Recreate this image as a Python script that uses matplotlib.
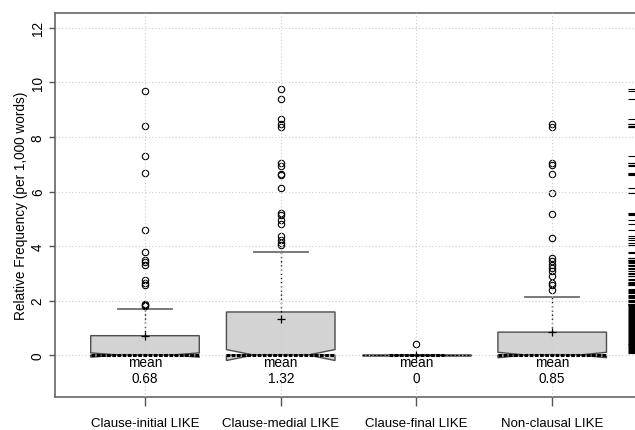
import matplotlib
matplotlib.use("Agg")
import matplotlib.pyplot as plt

plt.rcParams['font.family'] = ['Liberation Sans', 'DejaVu Sans']

# Summary statistics per LIKE position (relative frequency per 1,000 words)
categories = ["Clause-initial LIKE", "Clause-medial LIKE",
              "Clause-final LIKE", "Non-clausal LIKE"]
means = [0.68, 1.32, 0, 0.85]
medians = [0.0, 0.0, 0.0, 0.0]
q1 = [0.0, 0.0, 0.0, 0.0]
q3 = [0.71, 1.58, 0.0, 0.84]
whisker_low = [0.0, 0.0, 0.0, 0.0]
whisker_high = [1.68, 3.77, 0.0, 2.13]
notch_half = [0.08, 0.20, 0.0, 0.10]
outliers = [
    [9.67, 8.40, 7.32, 6.68, 4.57, 3.77, 3.49, 3.41, 3.32, 2.74, 2.63, 2.57,
     1.89, 1.84, 1.79],
    [9.77, 9.39, 8.66, 8.48, 8.37, 7.04, 6.92, 6.64, 6.61, 6.14, 5.21, 5.12,
     4.96, 4.82, 4.38, 4.23, 4.11, 4.05],
    [0.40],
    [8.48, 8.36, 7.06, 6.96, 6.63, 5.94, 5.19, 4.30, 3.57, 3.44, 3.32, 3.20,
     3.08, 2.89, 2.65, 2.57, 2.37],
]
# Non-outlying observations shown in the rug on the right
inner_values = [3.75, 3.57, 3.50, 3.38, 3.26, 3.16, 3.02, 2.96, 2.89, 2.80,
                2.68, 2.59, 2.41, 2.36, 2.31, 2.27, 2.22, 2.18, 2.12, 2.08,
                2.03, 1.98, 1.93, 1.87, 1.82, 1.78, 1.74, 1.70, 1.66, 1.62,
                1.58, 1.55, 1.51, 1.47, 1.43, 1.40, 1.36, 1.32, 1.29, 1.25,
                1.21, 1.18, 1.14, 1.10, 1.07, 1.03, 0.99, 0.96, 0.92, 0.88,
                0.85, 0.81, 0.77, 0.74, 0.70, 0.66, 0.63, 0.59, 0.55, 0.52,
                0.48, 0.44, 0.41, 0.37, 0.33, 0.30, 0.26, 0.22, 0.19, 0.15,
                0.12, 0.08]

positions = [1, 2, 3, 4]
box_width = 0.8

fig = plt.figure(figsize=(6.35, 4.31), dpi=100)
ax = fig.add_axes([55 / 635, 33 / 431, 1 - 55 / 635, (398 - 14) / 431])

stats = []
for i, cat in enumerate(categories):
    stats.append(dict(med=medians[i], q1=q1[i], q3=q3[i],
                      whislo=whisker_low[i], whishi=whisker_high[i],
                      cilo=medians[i] - notch_half[i],
                      cihi=medians[i] + notch_half[i],
                      fliers=outliers[i], label=cat))

ax.bxp(stats, positions=positions, widths=box_width, shownotches=True,
       patch_artist=True, showfliers=True, capwidths=0.4,
       boxprops=dict(facecolor='#d3d3d3', edgecolor='#4d4d4d', linewidth=1.0),
       whiskerprops=dict(color='black', linestyle=(0, (1, 2)), linewidth=1.0),
       capprops=dict(color='#6e6e6e', linewidth=1.3),
       medianprops=dict(linestyle='none'),
       flierprops=dict(marker='o', markerfacecolor='none',
                       markeredgecolor='black', markersize=4.6,
                       markeredgewidth=0.8))

# Median bars; flat boxes get a thin dashed outline and a short median bar
for p, med, lo, hi in zip(positions, medians, q1, q3):
    half = box_width / 2 if hi > lo else box_width / 4
    if hi <= lo:
        ax.hlines(med, p - box_width / 2, p + box_width / 2, colors='black',
                  linewidth=0.8, linestyles=(0, (2, 1.5)), zorder=3)
    ax.hlines(med, p - half, p + half, colors='black', linewidth=2.2,
              linestyles=(0, (1.2, 0.5)), zorder=3)

# Means
ax.plot(positions, means, linestyle='none', marker='+', color='black',
        markersize=5.5, markeredgewidth=0.9, zorder=4)
for p, m in zip(positions, means):
    ax.text(p, -0.26, "mean", ha='center', va='center', fontsize=9.8)
    ax.text(p, -0.84, f"{m:g}", ha='center', va='center', fontsize=9.8)

# Rug of all observations along the right edge
rug_values = [v for grp in outliers for v in grp] + inner_values
ax.hlines(rug_values, 0.988, 1.0, transform=ax.get_yaxis_transform(),
          colors='black', linewidth=0.8, zorder=3)

ax.set_xlim(0.337, 4.61)
ax.set_ylim(-1.54, 12.55)
ax.set_xticks(positions)
ax.set_xticklabels(categories, fontsize=9.5)
ax.set_yticks([0, 2, 4, 6, 8, 10, 12])
ax.set_yticklabels(['0', '2', '4', '6', '8', '10', '12'], fontsize=9.8,
                   rotation=90, va='center')
ax.tick_params(axis='x', length=6.5, pad=8, color='#555555', width=1)
ax.tick_params(axis='y', length=4.3, pad=3, color='#555555', width=1)
ax.set_ylabel("Relative Frequency (per 1,000 words)", fontsize=9.8,
              labelpad=2)

ax.grid(True, linestyle=(0, (1, 2)), color='#cccccc', linewidth=0.8)
ax.set_axisbelow(False)

for side in ('left', 'top', 'bottom'):
    ax.spines[side].set_color('#666666')
    ax.spines[side].set_linewidth(1.2)
ax.spines['right'].set_visible(False)

fig.savefig("out.png", dpi=100)
